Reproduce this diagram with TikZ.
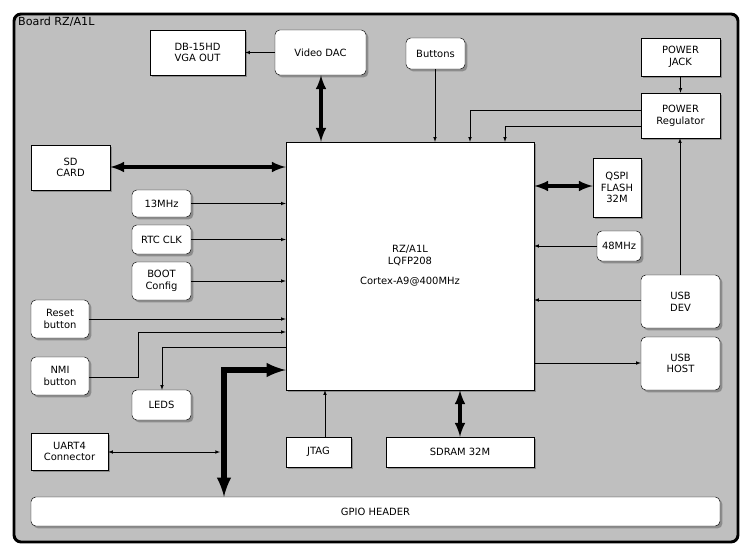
\documentclass[tikz,border=0pt]{standalone}
\usepackage{fontspec}
\setmainfont{DejaVu Sans}
\usetikzlibrary{arrows,shadows,calc}

\tikzset{
  blk/.style={draw,fill=white,inner sep=0pt,align=center,font=\fontsize{8.5}{10}\selectfont,
    drop shadow={shadow xshift=2pt,shadow yshift=-2pt,fill=black!45,opacity=1}},
  rblk/.style={blk,rounded corners=4pt},
  sz/.style 2 args={minimum width=#1*0.03cm,minimum height=#2*0.03cm},
  lnk/.style={-latex,thin},
  bus/.style={latex-latex,line width=3pt},
}

\begin{document}
\begin{tikzpicture}[x=0.03cm,y=-0.03cm]
\useasboundingbox (0,0) rectangle (751,558);
%board
\draw[line width=2.5pt,rounded corners=6pt,fill=black!25] (14,14) rectangle (738,542);
\node[anchor=north west,inner sep=0pt,font=\fontsize{9.5}{11}\selectfont] (title) at (18,17) {Board RZ/A1L};

%blocks
\node[blk,sz={95}{45}] (vga) at (197.5,52.5) {DB-15HD\\VGA OUT};
\node[rblk,sz={91}{45}] (dac) at (320.5,52.5) {Video DAC};
\node[rblk,sz={59}{31}] (btn) at (435.5,53.5) {Buttons};
\node[blk,sz={79}{38}] (jack) at (680.5,57) {POWER\\JACK};
\node[blk,sz={79}{45}] (reg) at (680.5,115.5) {POWER\\Regulator};
\node[blk,sz={79}{45}] (sd) at (70.5,167.5) {SD\\CARD};
\node[blk,sz={248}{248}] (cpu) at (410,266) {RZ/A1L\\LQFP208\\[1.5ex]Cortex-A9@400MHz};
\node[blk,sz={48}{59}] (qspi) at (617,187.5) {QSPI\\FLASH\\32M};
\node[rblk,sz={59}{27}] (osc) at (161.5,203.5) {13MHz};
\node[rblk,sz={59}{29}] (rtc) at (161.5,239.5) {RTC CLK};
\node[rblk,sz={44}{30}] (usbclk) at (619,246) {48MHz};
\node[rblk,sz={59}{38}] (boot) at (161.5,281) {BOOT\\Config};
\node[rblk,sz={79}{53}] (dev) at (680.5,301.5) {USB\\DEV};
\node[rblk,sz={58}{38}] (rst) at (60,319) {Reset\\button};
\node[rblk,sz={58}{38}] (nmi) at (60,376) {NMI\\button};
\node[rblk,sz={79}{53}] (host) at (680.5,363.5) {USB\\HOST};
\node[rblk,sz={59}{30}] (leds) at (161.5,405) {LEDS};
\node[blk,sz={77}{37}] (uart) at (69.5,451.5) {UART4\\Connector};
\node[blk,sz={65}{30}] (jtag) at (318.5,452) {JTAG};
\node[blk,sz={148}{30}] (sdram) at (460,452) {SDRAM 32M};
\node[rblk,sz={689}{29}] (gpio) at (375.5,511.5) {GPIO HEADER};

%links
\draw[lnk] (dac.west) -- (vga.east);
\draw[bus] (dac.south -| 321,0) -- (cpu.north -| 321,0);
\draw[lnk] (btn.south -| 435,0) -- (cpu.north -| 435,0);
\draw[lnk] (jack) -- (reg);
\draw[lnk] (reg.west |- 0,110) -| (cpu.north -| 470,0);
\draw[lnk] (reg.west |- 0,126) -| (cpu.north -| 505,0);
\draw[lnk] (dev.north -| 680,0) -- (reg.south -| 680,0);
\draw[bus] (sd.east |- 0,167) -- (cpu.west |- 0,167);
\draw[lnk] (osc) -- (osc -| cpu.west);
\draw[lnk] (rtc) -- (rtc -| cpu.west);
\draw[lnk] (boot) -- (boot -| cpu.west);
\draw[bus] (qspi.west |- 0,186) -- (cpu.east |- 0,186);
\draw[lnk] (usbclk.west |- 0,246) -- (cpu.east |- 0,246);
\draw[lnk] (dev.west |- 0,300) -- (cpu.east |- 0,300);
\draw[lnk] (cpu.east |- 0,363) -- (host.west |- 0,363);
\draw[lnk] (rst.east |- 0,319) -- (cpu.west |- 0,319);
\draw[lnk] (nmi.east |- 0,377) -- (138,377) -- (138,332) -- (cpu.west |- 0,332);
\draw[lnk] (cpu.west |- 0,347) -- (162,347) -- (leds.north -| 162,0);
\draw[lnk] (jtag.north -| 325,0) -- (cpu.south -| 325,0);
\draw[bus] (sdram.north -| 460,0) -- (cpu.south -| 460,0);
\draw[latex-latex,line width=4.5pt] (gpio.north -| 224,0) -- (224,370) -- (cpu.west |- 0,370);
\draw[latex-latex,thin] (uart.east |- 0,452) -- (220,452);
\end{tikzpicture}
\end{document}
